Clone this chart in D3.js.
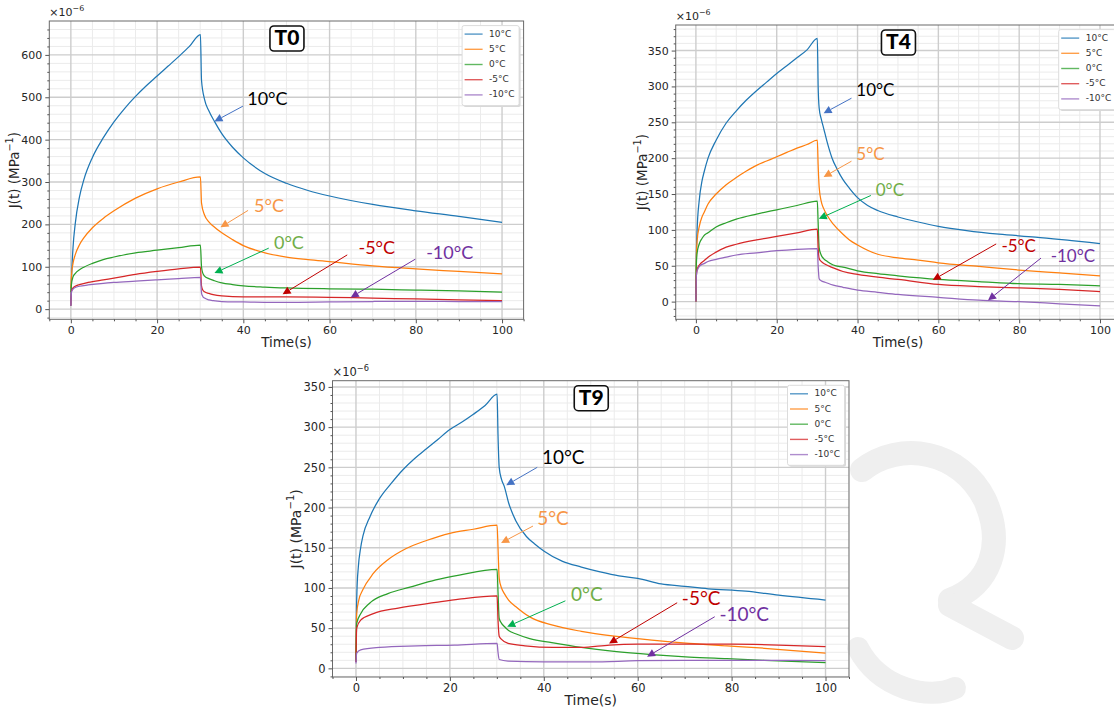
<!DOCTYPE html>
<html>
<head>
<meta charset="utf-8">
<script src="https://cdn.jsdelivr.net/npm/d3@7"></script>
<style>
  html, body { margin: 0; padding: 0; background: #fff; }
  svg { display: block; }
</style>
</head>
<body>
<svg id="fig" width="1114" height="709"></svg>
<script>
// ---------- Creep compliance J(t), units of 1e-6 MPa^-1, [time (s), J] ----------
const seriesNames = ["10°C", "5°C", "0°C", "-5°C", "-10°C"];
const seriesColors = ["#1f77b4", "#ff7f0e", "#2ca02c", "#d62728", "#9467bd"];

// T0
const t0_10C = [[0,8],[0.15,70],[0.5,145],[1,200],[2,265],[3,305],[5,358],[7.5,404],[10,442],[12.5,474],[15,502],[17.5,527],[20,550],[22.5,573],[25,596],[27.5,620],[30.05,648],
  [30.3,540],[31,495],[32,468],[33.3,443],[35,414],[37.5,382],[40,357],[45,320],[50,297],[55,280],[60,267],[70,247],[80,232],[90,219],[100,205]];
const t0_5C = [[0,50],[0.15,80],[0.5,108],[1,128],[2,152],[3,168],[5,192],[7.5,214],[10,232],[15,262],[20,284],[25,300],[30.05,312],
  [30.3,250],[31,222],[32,206],[33,196],[35,180],[37.5,164],[40,150],[45,133],[50,123],[55,117],[60,112],[70,102],[80,95],[90,89],[100,83]];
const t0_0C = [[0,40],[0.15,60],[0.5,76],[1,84],[2,93],[3,99],[5,108],[7.5,117],[10,123],[15,133],[20,139],[25,145],[30.05,151],
  [30.3,100],[30.6,85],[31,78],[32,72],[33.3,67],[35,62],[37.5,58],[40,55],[45,52],[50,50],[60,48],[70,47],[80,45],[90,43],[100,40]];
const t0_m5C = [[0,8],[0.15,44],[0.5,50],[1,54],[2,58],[4,63],[7.5,69],[10,73],[15,82],[20,89],[25,95],[30.05,99],
  [30.3,55],[30.6,45],[31,41],[32,37],[33,34],[35,31],[40,29],[50,29],[60,28],[70,26],[80,24],[90,22],[100,20]];
const t0_m10C = [[0,8],[0.15,40],[0.5,47],[1,51],[2,54],[4,57],[7.5,61],[10,63],[15,66],[20,69],[25,72],[30.05,75],
  [30.3,38],[30.6,30],[31,26],[32,22],[33,20],[35,18],[40,17],[45,16],[50,16],[60,17],[70,18],[80,18.5],[90,18],[100,18]];

// T4
const t4_10C = [[0,2],[0.1,60],[0.3,100],[0.8,140],[1.5,168],[2,180],[3,200],[5,225],[7.5,249],[10,266],[12.5,281],[15,294],[17.5,306],[20,318],[22.5,329],[25,340],[27.5,351],[30.05,367],
  [30.25,300],[30.5,270],[31,255],[31.6,242],[32.5,222],[33.7,200],[35,184],[36.4,170],[38,158],[40,145],[42.5,134],[45,127],[50,118],[55,111],[60,105],[67,99],[75,94],[84,90],[93,85],[100,81]];
const t4_5C = [[0,0],[0.1,60],[0.3,85],[0.8,104],[1.5,118],[2,124],[3,136],[5,150],[7.5,163],[10,173],[12.5,182],[15,190],[17.5,196],[20,202],[22.5,208],[25,214],[27.5,219],[30.05,225],
  [30.25,190],[30.5,160],[31,140],[31.6,130],[32.5,120],[34,108],[36.4,94],[38,86],[40,79],[45,66],[50,61],[55,58],[60,54],[70,49],[80,44],[90,40],[100,36]];
const t4_0C = [[0,0],[0.1,50],[0.3,68],[0.8,80],[1.5,88],[2,92],[3,96],[5,104],[7.5,110],[10,115],[15,122],[20,128],[25,134],[30.05,140],
  [30.25,110],[30.5,75],[31,65],[31.6,60],[32.5,56],[34,51],[36.4,48],[40,43],[45,39],[50,36],[60,31],[70,28],[80,25],[90,24],[100,22]];
const t4_m5C = [[0,0],[0.1,35],[0.3,45],[1,52],[2,57],[3,62],[5,69],[7.5,76],[10,80],[15,86],[20,91],[25,96],[30.05,101],
  [30.25,75],[30.5,60],[31,56],[32,52],[34,47],[36.4,42],[40,38],[45,34],[50,31],[60,24],[70,21],[80,19],[90,17],[100,14]];
const t4_m10C = [[0,0],[0.1,35],[0.3,43],[1,50],[2,53],[3,56],[5,59],[7.5,62],[10,65],[15,68],[20,71],[25,73],[30.05,74],
  [30.25,50],[30.5,32],[31,29],[32,27],[34,23],[36.4,20],[40,16],[45,13],[50,10],[60,6],[70,2],[80,0],[90,-3],[100,-6]];

// T9
const t9_10C = [[0,8],[0.1,70],[0.2,95],[0.5,126],[1,150],[1.5,165],[3,189],[5,211],[7.5,230],[10,247],[12.5,261],[15,273],[17.5,285],[20,297],[22.5,306],[25,316],[27.5,327],[30.05,341],
  [30.25,290],[30.5,250],[31,235],[31.6,226],[32.5,206],[34,184],[36.3,164],[38,155],[40,146],[44,133],[48,126],[52,120],[56,115],[60,112],[65,105],[70,102],[75,99],[83,96],[90,91],[100,85]];
const t9_5C = [[0,19],[0.15,68],[0.6,85],[1.4,97],[3.7,118],[6.8,135],[10.7,149],[15,159],[20,168],[25,173],[30.05,178],
  [30.25,150],[30.5,112],[31,100],[31.6,93],[32.5,85],[34,77],[37,64],[41.7,54],[48,46],[55,40],[63,35],[71,31],[79,28],[87,25],[100,19]];
const t9_0C = [[0,10],[0.15,56],[1,68],[2.9,81],[6.8,93],[11.5,101],[17,110],[22,116],[30.05,123],
  [30.25,95],[30.5,62],[31,56],[31.6,52],[32.5,47],[34,43],[37,37],[41.7,32],[48,26],[55,21],[63,17],[71,14],[79,12],[87,10],[100,7]];
const t9_m5C = [[0,8],[0.15,50],[1,60],[3.7,68],[9,75],[17,82],[22,86],[30.05,90],
  [30.25,60],[30.5,40],[31,36],[32.4,31],[36,28],[42,26],[48,26],[54,29],[60,30],[70,30],[80,30],[90,29],[100,27]];
const t9_m10C = [[0,6],[0.15,19],[1,23],[5,26],[13,28],[21,29],[30.05,31],
  [30.25,20],[30.5,11],[32.4,9],[40,8],[50,8],[60,9.5],[70,10],[80,10],[90,10],[100,9.5]];

// Axis ticks
const xTicks = [0, 20, 40, 60, 80, 100];
const yTicksT0 = [0, 100, 200, 300, 400, 500, 600];
const yTicksT4 = [0, 50, 100, 150, 200, 250, 300, 350];
const yTicksT9 = [0, 50, 100, 150, 200, 250, 300, 350];

// Callouts: label, text anchor (t), arrow start (s), arrow tip (e), in data units
const callT0 = [
  ["10°C", 40.9, 493, 39.9, 479, 33.3, 443],
  ["5°C", 42.5, 241, 41.1, 233, 34.7, 193],
  ["0°C", 47.1, 152, 45.9, 144, 33.3, 85],
  ["-5°C", 66.7, 140, 64.1, 128, 49.1, 35],
  ["-10°C", 82.4, 128, 79.9, 118, 64.9, 27.6]
];
const callT4 = [
  ["10°C", 39.7, 293, 38.5, 283.6, 31.6, 262.6],
  ["5°C", 39.7, 204, 38.5, 195.8, 31.6, 173.8],
  ["0°C", 44.5, 153.7, 43.3, 148, 30.4, 115.4],
  ["-5°C", 75.6, 74.8, 74.3, 80.4, 58.6, 30],
  ["-10°C", 87.8, 61.7, 85.4, 60.7, 72.3, 1.9]
];
const callT9 = [
  ["10°C", 39.6, 260, 38.6, 250, 32, 227.8],
  ["5°C", 38.6, 184, 37.7, 177, 30.9, 156],
  ["0°C", 45.8, 90.3, 44.6, 84, 32.2, 51.8],
  ["-5°C", 69.4, 85, 68.4, 81.6, 53.9, 31],
  ["-10°C", 77.4, 65, 76.4, 64.2, 62, 14.5]
];
const callTextColors = ["#000000", "#F79646", "#70AD47", "#C00000", "#7030A0"];
const callArrowColors = ["#4472C4", "#F79646", "#00B050", "#C00000", "#7030A0"];

// ---------- Drawing ----------
const svg = d3.select("#fig");
svg.append("rect").attr("width", 1114).attr("height", 709).attr("fill", "#fff");

// faint background emblem in the lower right
const emblem = svg.append("g").attr("fill", "none").attr("stroke", "#efefef").attr("stroke-linecap", "round");
emblem.append("path").attr("stroke-width", 24)
  .attr("d", "M 862 470 C 900 440, 960 450, 985 500 C 1005 545, 990 585, 950 600");
emblem.append("path").attr("stroke-width", 24)
  .attr("d", "M 950 605 L 1012 638");
emblem.append("path").attr("stroke-width", 22)
  .attr("d", "M 858 648 C 880 690, 930 700, 955 688");

function panel(cfg) {
  const g = svg.append("g");
  const all = cfg.series.flat();
  const [lo, hi] = d3.extent(all, d => d[1]);
  const pad = (hi - lo) * 0.05;
  const x = d3.scaleLinear().domain([-5, 105]).range([cfg.left, cfg.right]);
  const y = d3.scaleLinear().domain([lo - pad, hi + pad]).range([cfg.bottom, cfg.top]);

  const clipId = "clip-" + cfg.name;
  g.append("clipPath").attr("id", clipId).append("rect")
    .attr("x", cfg.left).attr("y", cfg.top)
    .attr("width", cfg.right - cfg.left).attr("height", cfg.bottom - cfg.top);

  const grid = g.append("g").attr("clip-path", `url(#${clipId})`);
  // minor grid
  const xMinor = d3.range(-5, 106, 5).filter(v => v % 20 !== 0);
  const [y0, y1] = y.domain();
  const yMinor = d3.range(Math.ceil(y0 / cfg.yMinorStep) * cfg.yMinorStep, y1, cfg.yMinorStep)
    .filter(v => Math.abs(v / cfg.yMajorStep - Math.round(v / cfg.yMajorStep)) > 1e-6);
  grid.selectAll(".xm").data(xMinor).join("line")
    .attr("x1", d => x(d)).attr("x2", d => x(d)).attr("y1", cfg.top).attr("y2", cfg.bottom)
    .attr("stroke", "#ebebeb").attr("stroke-width", 1);
  grid.selectAll(".ym").data(yMinor).join("line")
    .attr("y1", d => y(d)).attr("y2", d => y(d)).attr("x1", cfg.left).attr("x2", cfg.right)
    .attr("stroke", "#ebebeb").attr("stroke-width", 1);
  // major grid
  grid.selectAll(".xM").data(xTicks).join("line")
    .attr("x1", d => x(d)).attr("x2", d => x(d)).attr("y1", cfg.top).attr("y2", cfg.bottom)
    .attr("stroke", "#cdcdcd").attr("stroke-width", 1.4);
  grid.selectAll(".yM").data(cfg.yTicks).join("line")
    .attr("y1", d => y(d)).attr("y2", d => y(d)).attr("x1", cfg.left).attr("x2", cfg.right)
    .attr("stroke", "#cdcdcd").attr("stroke-width", 1.4);

  // data lines
  const line = d3.line().x(d => x(d[0])).y(d => y(d[1])).curve(d3.curveMonotoneX);
  const lines = g.append("g").attr("clip-path", `url(#${clipId})`);
  cfg.series.forEach((s, i) => {
    lines.append("path").attr("d", line(s)).attr("fill", "none")
      .attr("stroke", seriesColors[i]).attr("stroke-width", 1.25).attr("stroke-linejoin", "round");
  });

  // frame
  g.append("rect").attr("x", cfg.left).attr("y", cfg.top)
    .attr("width", cfg.right - cfg.left).attr("height", cfg.bottom - cfg.top)
    .attr("fill", "none").attr("stroke", "#6a6a6a").attr("stroke-width", 1);

  // axes
  const fs = cfg.tickFont;
  const xAxis = d3.axisBottom(x).tickValues(xTicks).tickSize(4).tickPadding(3).tickFormat(d3.format("d"));
  const ax = g.append("g").attr("transform", `translate(0,${cfg.bottom})`).call(xAxis);
  const xMinorAxis = d3.axisBottom(x).tickValues(xMinor).tickSize(2).tickFormat("");
  const axm = g.append("g").attr("transform", `translate(0,${cfg.bottom})`).call(xMinorAxis);
  const yAxis = d3.axisLeft(y).tickValues(cfg.yTicks).tickSize(4).tickPadding(3).tickFormat(d3.format("d"));
  const ay = g.append("g").attr("transform", `translate(${cfg.left},0)`).call(yAxis);
  const yMinorAxis = d3.axisLeft(y).tickValues(yMinor).tickSize(2).tickFormat("");
  const aym = g.append("g").attr("transform", `translate(${cfg.left},0)`).call(yMinorAxis);
  [ax, axm, ay, aym].forEach(a => {
    a.select(".domain").remove();
    a.selectAll(".tick line").attr("stroke", "#555");
    a.selectAll("text").attr("font-family", "DejaVu Sans, sans-serif")
      .attr("font-size", fs).attr("fill", "#262626");
  });

  // exponent marker
  const ex = g.append("text").attr("x", cfg.left).attr("y", cfg.top - 5)
    .attr("font-family", "DejaVu Sans, sans-serif").attr("font-size", fs).attr("fill", "#262626");
  ex.append("tspan").text("×10");
  ex.append("tspan").text("−6").attr("font-size", fs * 0.72).attr("dy", -fs * 0.42);

  // axis labels
  g.append("text").attr("x", (cfg.left + cfg.right) / 2).attr("y", cfg.xLabelY)
    .attr("text-anchor", "middle").attr("dominant-baseline", "middle")
    .attr("font-family", "DejaVu Sans, sans-serif").attr("font-size", cfg.labelFont).attr("fill", "#262626")
    .text("Time(s)");
  const yl = g.append("text")
    .attr("transform", `translate(${cfg.yLabelX},${(cfg.top + cfg.bottom) / 2}) rotate(-90)`)
    .attr("text-anchor", "middle").attr("dominant-baseline", "middle")
    .attr("font-family", "DejaVu Sans, sans-serif").attr("font-size", cfg.labelFont).attr("fill", "#262626");
  yl.append("tspan").text("J(t) (MPa");
  yl.append("tspan").text("−1").attr("font-size", cfg.labelFont * 0.72).attr("dy", -cfg.labelFont * 0.4);
  yl.append("tspan").text(")").attr("dy", cfg.labelFont * 0.4);

  // legend
  const lg = g.append("g");
  const lw = 57, lh = 80;
  const lx = cfg.right - 4.5 - lw, ly = cfg.top + 4.6;
  lg.append("rect").attr("x", lx + 1.5).attr("y", ly + 1.5).attr("width", lw).attr("height", lh)
    .attr("rx", 2).attr("fill", "#d8d8d8");
  lg.append("rect").attr("x", lx).attr("y", ly).attr("width", lw).attr("height", lh)
    .attr("rx", 2).attr("fill", "#fff").attr("stroke", "#dcdcdc").attr("stroke-width", 1);
  seriesNames.forEach((n, i) => {
    const yy = ly + 8.5 + i * 15.2;
    lg.append("line").attr("x1", lx + 2.5).attr("x2", lx + 20.5).attr("y1", yy).attr("y2", yy)
      .attr("stroke", seriesColors[i]).attr("stroke-width", 1.4).attr("stroke-opacity", 0.75);
    lg.append("text").attr("x", lx + 27).attr("y", yy).attr("dominant-baseline", "middle")
      .attr("font-family", "DejaVu Sans, sans-serif").attr("font-size", 9).attr("fill", "#333")
      .text(n);
  });

  // panel title badge
  const tb = g.append("g");
  const bw = 34, bh = 25;
  const bx = x(50) - bw / 2 + 0.5, by = cfg.top + 5;
  tb.append("rect").attr("x", bx).attr("y", by).attr("width", bw).attr("height", bh)
    .attr("rx", 4).attr("fill", "#fff").attr("stroke", "#111").attr("stroke-width", 1.6);
  tb.append("text").attr("x", bx + bw / 2).attr("y", by + bh / 2 + 1)
    .attr("text-anchor", "middle").attr("dominant-baseline", "middle")
    .attr("font-family", "Lato, sans-serif").attr("font-weight", 900).attr("font-size", 21)
    .attr("fill", "#000").text(cfg.name);

  // callouts
  cfg.calls.forEach((c, i) => {
    const [label, tx, ty, sx, sy, exx, eyy] = c;
    const x1 = x(sx), y1 = y(sy), x2 = x(exx), y2 = y(eyy);
    const ang = Math.atan2(y2 - y1, x2 - x1);
    const hl = 8, hw = 4;
    const bxp = x2 - hl * Math.cos(ang), byp = y2 - hl * Math.sin(ang);
    g.append("line").attr("x1", x1).attr("y1", y1).attr("x2", bxp).attr("y2", byp)
      .attr("stroke", callArrowColors[i]).attr("stroke-width", 1);
    const px = -Math.sin(ang), py = Math.cos(ang);
    g.append("path")
      .attr("d", `M${x2},${y2} L${bxp + hw * px},${byp + hw * py} L${bxp - hw * px},${byp - hw * py} Z`)
      .attr("fill", callArrowColors[i]);
    g.append("text").attr("x", x(tx)).attr("y", y(ty)).attr("dominant-baseline", "middle")
      .attr("font-family", "Lato, sans-serif").attr("font-size", cfg.callFont)
      .attr("fill", callTextColors[i]).text(label);
  });
}

panel({ name: "T0", left: 49.3, right: 523.6, top: 21, bottom: 319.3,
  series: [t0_10C, t0_5C, t0_0C, t0_m5C, t0_m10C], yTicks: yTicksT0, yMajorStep: 100, yMinorStep: 20,
  calls: callT0, tickFont: 11, labelFont: 13.5, xLabelY: 343, yLabelX: 15, callFont: 18 });
panel({ name: "T4", left: 675.7, right: 1120.2, top: 25, bottom: 319.3,
  series: [t4_10C, t4_5C, t4_0C, t4_m5C, t4_m10C], yTicks: yTicksT4, yMajorStep: 50, yMinorStep: 10,
  calls: callT4, tickFont: 11, labelFont: 13.5, xLabelY: 343, yLabelX: 643, callFont: 17 });
panel({ name: "T9", left: 332.5, right: 849, top: 380.7, bottom: 677,
  series: [t9_10C, t9_5C, t9_0C, t9_m5C, t9_m10C], yTicks: yTicksT9, yMajorStep: 50, yMinorStep: 10,
  calls: callT9, tickFont: 11.5, labelFont: 14, xLabelY: 700.5, yLabelX: 297, callFont: 19 });
</script>
</body>
</html>
